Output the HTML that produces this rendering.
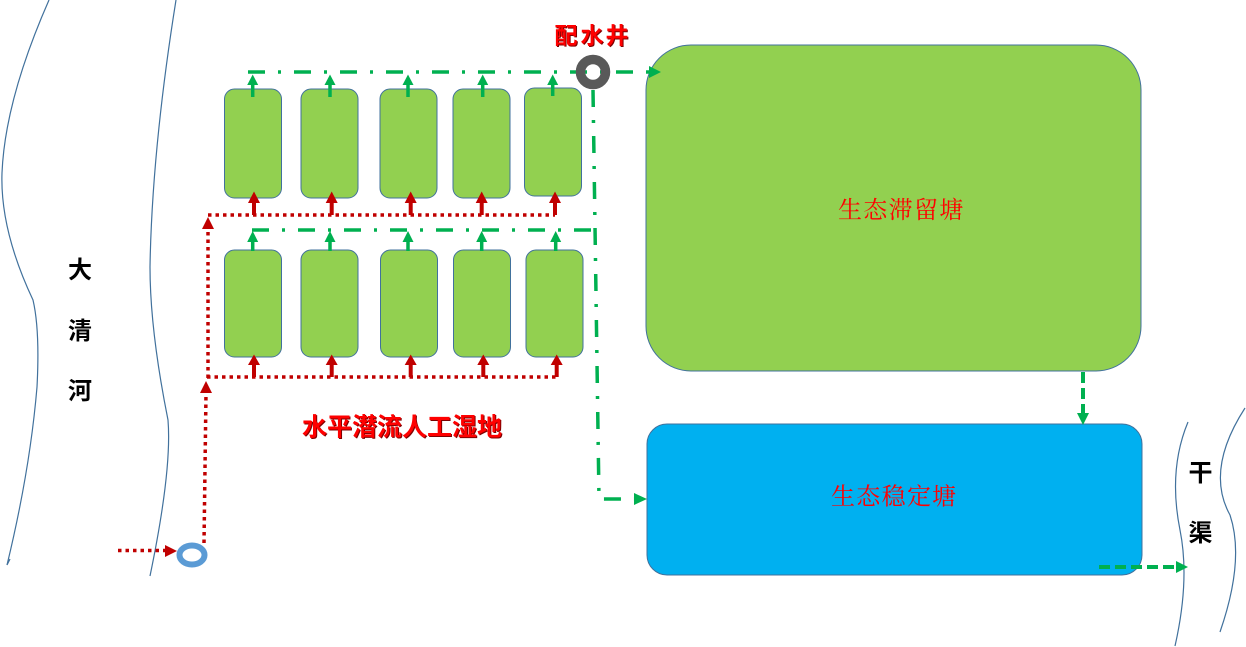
<!DOCTYPE html>
<html>
<head>
<meta charset="utf-8">
<style>
  html,body{margin:0;padding:0;background:#fff;}
  svg{display:block;}
  .bold{font-family:"Liberation Sans","Noto Sans CJK SC",sans-serif;font-weight:bold;}
  .serif{font-family:"Liberation Serif","Noto Serif CJK SC",serif;}
</style>
</head>
<body>
<svg width="1246" height="647" viewBox="0 0 1246 647" xmlns="http://www.w3.org/2000/svg">
  <!-- rivers -->
  <g fill="none" stroke="#41719C" stroke-width="1.2">
    <path d="M49,0 Q5,100 2,173 Q0,230 33,300 Q40,330 37,387 Q30,470 7,565 L10,559"/>
    <path d="M176,0 Q152,150 150,267 Q150,330 168,420 Q172,470 150,576"/>
    <path d="M1188,422 Q1168,470 1180,530 Q1190,580 1175,646"/>
    <path d="M1245,408 Q1205,470 1230,515 Q1245,560 1220,632"/>
  </g>

  <!-- wetland cells -->
  <g fill="#92D050" stroke="#41719C" stroke-width="1">
    <rect x="224.5" y="89" width="57" height="109" rx="10"/>
    <rect x="301" y="89" width="57" height="109" rx="10"/>
    <rect x="380" y="89" width="57" height="109" rx="10"/>
    <rect x="453" y="89" width="57" height="109" rx="10"/>
    <rect x="524.5" y="88" width="57" height="108" rx="10"/>

    <rect x="224.5" y="250" width="57" height="107" rx="10"/>
    <rect x="301" y="250" width="57" height="107" rx="10"/>
    <rect x="380.5" y="250" width="57" height="107" rx="10"/>
    <rect x="453.5" y="250" width="57" height="107" rx="10"/>
    <rect x="526" y="250" width="57" height="107" rx="10"/>

    <rect x="646" y="45" width="495" height="326" rx="45"/>
  </g>
  <rect x="647" y="424" width="495" height="151" rx="20" fill="#00B0F0" stroke="#41719C" stroke-width="1"/>

  <!-- green dash-dot lines -->
  <g fill="none" stroke="#00B050" stroke-width="3.5" stroke-dasharray="17 13 3 13">
    <path d="M248,72 H649"/>
    <path d="M252,230 H596"/>
    <path d="M593,90 L599,499 H634"/>
  </g>
  <g fill="#00B050">
    <polygon points="649,66 661,72 649,78"/>
    <polygon points="634,493 647,499 634,505"/>
  </g>

  <!-- green up arrows (top row) -->
  <g stroke="#00B050" stroke-width="3.5">
    <line x1="252.7" y1="97" x2="252.7" y2="84"/>
    <line x1="330" y1="97" x2="330" y2="84"/>
    <line x1="408" y1="97" x2="408" y2="84"/>
    <line x1="482.7" y1="97" x2="482.7" y2="84"/>
    <line x1="552.7" y1="96" x2="552.7" y2="84"/>
    <line x1="252.7" y1="251" x2="252.7" y2="241"/>
    <line x1="330" y1="251" x2="330" y2="241"/>
    <line x1="408" y1="251" x2="408" y2="241"/>
    <line x1="481.7" y1="251" x2="481.7" y2="241"/>
    <line x1="555.7" y1="251" x2="555.7" y2="241"/>
  </g>
  <g fill="#00B050">
    <polygon points="247.2,85 252.7,74.5 258.2,85"/>
    <polygon points="324.5,85 330,74.5 335.5,85"/>
    <polygon points="402.5,85 408,74.5 413.5,85"/>
    <polygon points="477.2,85 482.7,74.5 488.2,85"/>
    <polygon points="547.2,85 552.7,74.5 558.2,85"/>
    <polygon points="247.2,242 252.7,231 258.2,242"/>
    <polygon points="324.5,242 330,231 335.5,242"/>
    <polygon points="402.5,242 408,231 413.5,242"/>
    <polygon points="476.2,242 481.7,231 487.2,242"/>
    <polygon points="550.2,242 555.7,231 561.2,242"/>
  </g>

  <!-- red dotted lines -->
  <g fill="none" stroke="#C00000" stroke-width="3.5" stroke-dasharray="3.5 4">
    <path d="M208,215 H555"/>
    <path d="M207,377 H557"/>
    <path d="M208,378 V229"/>
    <path d="M204,543 L206,393"/>
    <path d="M118,550.5 H165"/>
  </g>
  <!-- red up arrows -->
  <g stroke="#C00000" stroke-width="4">
    <line x1="254" y1="215" x2="254" y2="202"/>
    <line x1="331.7" y1="215" x2="331.7" y2="202"/>
    <line x1="410.7" y1="215" x2="410.7" y2="202"/>
    <line x1="481.7" y1="215" x2="481.7" y2="202"/>
    <line x1="555" y1="215" x2="555" y2="202"/>
    <line x1="254" y1="377" x2="254" y2="364"/>
    <line x1="331.7" y1="377" x2="331.7" y2="364"/>
    <line x1="410.7" y1="377" x2="410.7" y2="364"/>
    <line x1="483.3" y1="377" x2="483.3" y2="364"/>
    <line x1="556.7" y1="377" x2="556.7" y2="364"/>
  </g>
  <g fill="#C00000">
    <polygon points="248,203 254,191.5 260,203"/>
    <polygon points="325.7,203 331.7,191.5 337.7,203"/>
    <polygon points="404.7,203 410.7,191.5 416.7,203"/>
    <polygon points="475.7,203 481.7,191.5 487.7,203"/>
    <polygon points="549,203 555,191.5 561,203"/>
    <polygon points="248,365 254,354.5 260,365"/>
    <polygon points="325.7,365 331.7,354.5 337.7,365"/>
    <polygon points="404.7,365 410.7,354.5 416.7,365"/>
    <polygon points="477.3,365 483.3,354.5 489.3,365"/>
    <polygon points="550.7,365 556.7,354.5 562.7,365"/>
    <polygon points="202,229 208,217 214,229"/>
    <polygon points="200,393 206,381 212,393"/>
    <polygon points="165,545 177,551 165,557"/>
  </g>

  <!-- green dashed arrows -->
  <g fill="none" stroke="#00B050" stroke-width="4" stroke-dasharray="11 5">
    <path d="M1083,372 V413"/>
    <path d="M1099,567 H1176"/>
  </g>
  <g fill="#00B050">
    <polygon points="1077,413 1083,425 1089,413"/>
    <polygon points="1176,561 1188,567 1176,573"/>
  </g>

  <!-- wells -->
  <circle cx="593" cy="72" r="12.5" fill="none" stroke="#595959" stroke-width="9.5"/>
  <ellipse cx="192" cy="555" rx="12.5" ry="9.5" fill="#fff" stroke="#5B9BD5" stroke-width="6"/>

  <!-- labels -->
  <g class="bold" font-size="23" text-anchor="middle">
    <text x="567,593,618" y="44.7" fill="#7F0000">配水井</text>
    <text x="566,592,617" y="43.7" fill="#FF0000">配水井</text>
  </g>
  <g class="bold" font-size="25" text-anchor="middle">
    <text x="315.5,340.5,365.5,390.5,415.5,440.5,465.5,490.5" y="436.5" fill="#7F0000">水平潜流人工湿地</text>
    <text x="314.5,339.5,364.5,389.5,414.5,439.5,464.5,489.5" y="435.5" fill="#FF0000">水平潜流人工湿地</text>
  </g>
  <g class="serif" font-size="24" text-anchor="middle" fill="#FF0000">
    <text x="850,875.3,900.6,926,951.2" y="218">生态滞留塘</text>
    <text x="843,868.3,893.6,919,944" y="504.5">生态稳定塘</text>
  </g>
  <g class="bold" font-size="24" text-anchor="middle" fill="#000">
    <text x="80" y="278">大</text>
    <text x="80" y="339">清</text>
    <text x="80" y="399">河</text>
    <text x="1200.5" y="481">干</text>
    <text x="1200.5" y="541">渠</text>
  </g>
</svg>
</body>
</html>
